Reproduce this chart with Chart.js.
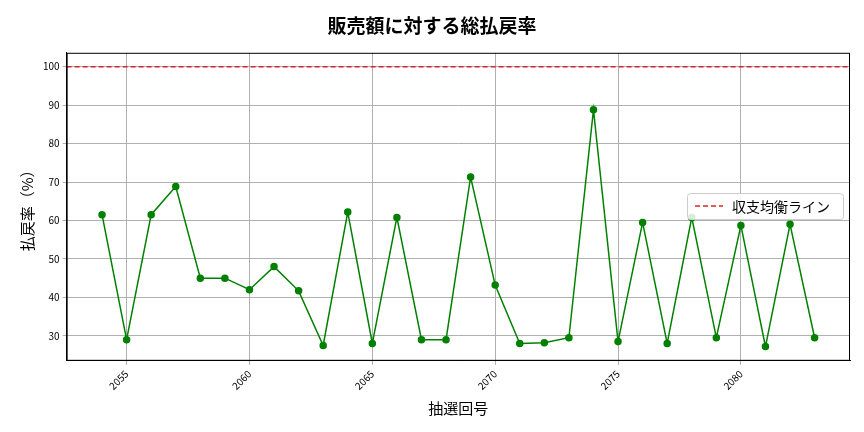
<!DOCTYPE html>
<html><head><meta charset="utf-8">
<script src="https://cdn.jsdelivr.net/npm/chart.js@4/dist/chart.umd.min.js"></script>
<style>body{margin:0;background:#fff}#w{width:864px;height:432px}</style>
</head><body><div id="w"><canvas id="c"></canvas></div>
<script>
const draws = [2054,2055,2056,2057,2058,2059,2060,2061,2062,2063,2064,2065,2066,2067,2068,2069,2070,2071,2072,2073,2074,2075,2076,2077,2078,2079,2080,2081,2082,2083];
const payoutRate = [61.5,29,61.5,68.8,45,45,42,48,41.7,27.5,62.2,28,60.8,29,29,71.3,43.2,28,28.2,29.5,88.8,28.5,59.5,28,60.8,29.5,58.7,27.2,59,29.5];
const breakEven = 100;
const legendLabel = '収支均衡ライン';
const F = "'Noto Sans CJK JP'";
const legendPlugin = {id:'lg', afterDraw(ch){
  const c=ch.ctx, a=ch.chartArea; c.save();
  c.strokeStyle='#000'; c.lineWidth=1; c.strokeRect(a.left+0.5,a.top+0.5,a.right-a.left-1,a.bottom-a.top-1);
  c.font = "14px "+F;
  const w = c.measureText(legendLabel).width + 58, h = 26;
  const x = a.right - w - 7, y = 193;
  c.fillStyle='rgba(255,255,255,0.85)'; c.strokeStyle='#ccc'; c.lineWidth=1;
  c.beginPath(); c.roundRect(x+0.5,y+0.5,w,h,3); c.fill(); c.stroke();
  c.strokeStyle='#d62728'; c.lineWidth=1.5; c.setLineDash([5,3]);
  c.beginPath(); c.moveTo(x+8,y+h/2); c.lineTo(x+36,y+h/2); c.stroke();
  c.setLineDash([]); c.fillStyle='#000'; c.textBaseline='middle';
  c.fillText(legendLabel, x+45, y+h/2+1); c.restore();
}};
new Chart(document.getElementById('c'), {
  type:'line',
  data:{datasets:[
    {data:draws.map((d,i)=>({x:d,y:payoutRate[i]})), borderColor:'green', backgroundColor:'green', borderWidth:1.5, pointRadius:3, pointHoverRadius:3, tension:0},
    {data:[{x:2052.56,y:breakEven},{x:2084.44,y:breakEven}], borderColor:'#d62728', borderDash:[5,3], borderWidth:1.5, pointRadius:0}
  ]},
  options:{responsive:true, maintainAspectRatio:false, animation:false,
    layout:{padding:{left:14,right:14,top:0,bottom:11}},
    plugins:{legend:{display:false}, tooltip:{enabled:false},
      title:{display:true, text:'販売額に対する総払戻率', font:{family:F,size:19}, color:'#000', padding:{top:14,bottom:16}}},
    scales:{
      x:{type:'linear', min:2052.56, max:2084.44, ticks:{stepSize:5, callback:v=>Number.isInteger(v)&&v%5===0?String(v):'', maxRotation:45, minRotation:45, font:{family:F,size:10}, color:'#000'},
        afterBuildTicks(ax){ax.ticks=[2055,2060,2065,2070,2075,2080].map(v=>({value:v}));},
        grid:{color:'#b0b0b0', drawTicks:true, tickLength:4}, border:{color:'#000'},
        title:{display:true, text:'抽選回号', font:{family:F,size:15}, color:'#000'}},
      y:{min:23.5, max:103.6, afterBuildTicks(ax){ax.ticks=[30,40,50,60,70,80,90,100].map(v=>({value:v}));},
        ticks:{font:{family:F,size:10}, color:'#000'},
        grid:{color:'#b0b0b0', tickLength:4}, border:{color:'#000'},
        title:{display:true, text:'払戻率（%）', font:{family:F,size:15}, color:'#000'}}
    }},
  plugins:[legendPlugin]
});
</script></body></html>
